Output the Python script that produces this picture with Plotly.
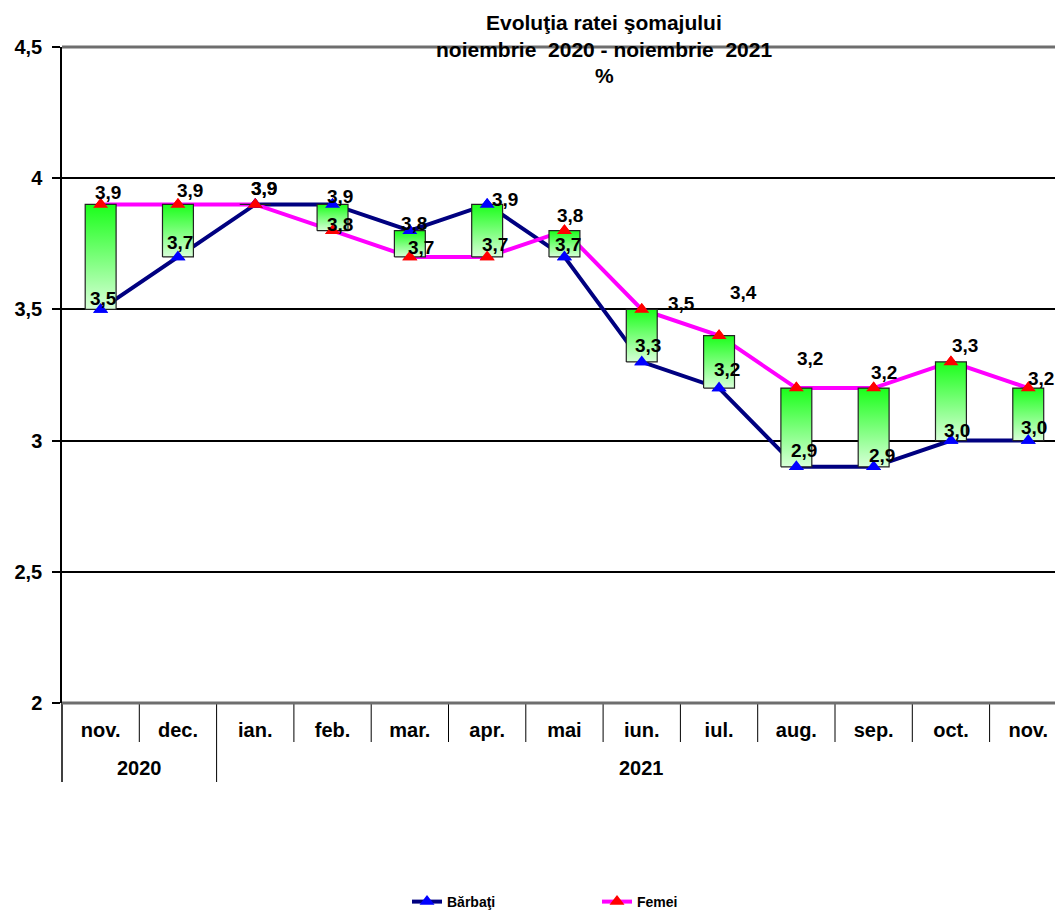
import plotly.graph_objects as go

# ---------------- data ----------------
months = ["nov.", "dec.", "ian.", "feb.", "mar.", "apr.", "mai",
          "iun.", "iul.", "aug.", "sep.", "oct.", "nov."]
years = ["2020", "2021"]
year_first = [0, 2]
year_last = [1, 12]
barbati = [3.5, 3.7, 3.9, 3.9, 3.8, 3.9, 3.7, 3.3, 3.2, 2.9, 2.9, 3.0, 3.0]
femei = [3.9, 3.9, 3.9, 3.8, 3.7, 3.7, 3.8, 3.5, 3.4, 3.2, 3.2, 3.3, 3.2]
y_ticks = [2, 2.5, 3, 3.5, 4, 4.5]
y_tick_text = ["2", "2,5", "3", "3,5", "4", "4,5"]

# ---------------- styles ----------------
FONT = "Liberation Sans, Arial, sans-serif"
NAVY = "#000080"
MAGENTA = "#FF00FF"
# pixel offsets of data labels (label centre relative to point)
fem_dx = [7, 12, 9, 7, 11, 8, 6, 40, 24, 14, 10, 14, 13]
fem_dy = [-12, -14, -16, -6, -9, -12, -15, -6, -43, -30, -16, -16, -10]
bar_dx = [3, 2, 9, 7, 4, 18, 4, 6, 8, 8, 8, 6, 6]
bar_dy = [-11, -14, -16, -8, -7, -5, -12, -16, -19, -16, -11, -10, -13]

W, H = 1055, 918
ML, MT = 62, 47
PLOT_B = 703
CAT_PX = 77.3
plot_h = PLOT_B - MT
plot_w = W - ML
x_max = -0.5 + plot_w / CAT_PX
HALF = 0.2

xs = list(range(len(months)))

fig = go.Figure()

# lines (with markers for the legend)
fig.add_trace(go.Scatter(
    x=xs, y=barbati, name="Bărbaţi", mode="lines+markers",
    line=dict(color=NAVY, width=4),
    marker=dict(symbol="triangle-up", size=13, color="#0000FF"),
    hoverinfo="skip"))
fig.add_trace(go.Scatter(
    x=xs, y=femei, name="Femei", mode="lines+markers",
    line=dict(color=MAGENTA, width=4),
    marker=dict(symbol="triangle-up", size=13, color="#FF0000"),
    hoverinfo="skip"))

# up-down bars with vertical gradient
for i, (b, f) in enumerate(zip(barbati, femei)):
    lo, hi = min(b, f), max(b, f)
    fig.add_trace(go.Scatter(
        x=[i - HALF, i + HALF, i + HALF, i - HALF, i - HALF],
        y=[lo, lo, hi, hi, lo],
        mode="lines", fill="toself",
        fillgradient=dict(type="vertical",
                          colorscale=[[0, "#D8FFD8"], [1, "#1AFF1A"]]),
        line=dict(color="#222222", width=1.2),
        showlegend=False, hoverinfo="skip"))

# markers on top of bars
fig.add_trace(go.Scatter(
    x=xs, y=barbati, mode="markers", showlegend=False, hoverinfo="skip",
    marker=dict(symbol="triangle-up", size=13, color="#0000FF")))
fig.add_trace(go.Scatter(
    x=xs, y=femei, mode="markers", showlegend=False, hoverinfo="skip",
    marker=dict(symbol="triangle-up", size=13, color="#FF0000")))

annotations = []
lab_font = dict(family=FONT, size=19, color="black")
for i in xs:
    annotations.append(dict(
        x=i, y=barbati[i], xref="x", yref="y", showarrow=False,
        text="<b>" + f"{barbati[i]:.1f}".replace(".", ",") + "</b>",
        xshift=bar_dx[i], yshift=-bar_dy[i], font=lab_font))
    annotations.append(dict(
        x=i, y=femei[i], xref="x", yref="y", showarrow=False,
        text="<b>" + f"{femei[i]:.1f}".replace(".", ",") + "</b>",
        xshift=fem_dx[i], yshift=-fem_dy[i], font=lab_font))

# title lines
title_lines = ["Evoluţia ratei şomajului",
               "noiembrie  2020 - noiembrie  2021", "%"]
title_px = [23, 50, 76]
title_x = (604 - ML) / plot_w
for t, py in zip(title_lines, title_px):
    annotations.append(dict(
        x=title_x, y=(PLOT_B - py) / plot_h, xref="paper", yref="paper",
        showarrow=False, text="<b>" + t + "</b>",
        font=dict(family=FONT, size=21, color="black"),
        xanchor="center", yanchor="middle"))

# year labels
for yr, a, b in zip(years, year_first, year_last):
    annotations.append(dict(
        x=(a + b) / 2, y=(PLOT_B - 768) / plot_h, xref="x", yref="paper",
        showarrow=False, text="<b>" + yr + "</b>",
        font=dict(family=FONT, size=20, color="black"),
        xanchor="center", yanchor="middle"))

shapes = []
month_row = (PLOT_B - 742) / plot_h
year_row = (PLOT_B - 782) / plot_h
for i in xs[1:]:
    shapes.append(dict(type="line", xref="x", yref="paper",
                       x0=i - 0.5, x1=i - 0.5, y0=0, y1=month_row,
                       line=dict(color="black", width=1)))
for a in year_first[1:]:
    shapes.append(dict(type="line", xref="x", yref="paper",
                       x0=a - 0.5, x1=a - 0.5, y0=month_row, y1=year_row,
                       line=dict(color="black", width=1)))
shapes.append(dict(type="line", xref="paper", yref="paper",
                   x0=0, x1=0, y0=0, y1=year_row,
                   line=dict(color="black", width=1.5)))
# plot-area top and bottom borders (gray)
for yb in (0, 1):
    shapes.append(dict(type="line", xref="paper", yref="paper",
                       x0=0, x1=1, y0=yb, y1=yb, layer="above",
                       line=dict(color="#6e6e6e", width=3)))

fig.update_layout(
    width=W, height=H,
    margin=dict(l=ML, r=0, t=MT, b=H - PLOT_B, pad=0),
    paper_bgcolor="white", plot_bgcolor="white",
    separators=", ",
    font=dict(family=FONT, color="black"),
    showlegend=True,
    legend=dict(orientation="h", x=(407 - ML) / plot_w, xanchor="left",
                y=(PLOT_B - 902) / plot_h, yanchor="middle",
                font=dict(family=FONT, size=14, color="black", weight="bold"),
                entrywidth=145, entrywidthmode="pixels",
                tracegroupgap=0, itemsizing="trace",
                bgcolor="rgba(0,0,0,0)"),
    annotations=annotations,
    shapes=shapes,
)

fig.update_xaxes(
    range=[-0.5, x_max], tickmode="array", tickvals=xs, ticktext=months,
    showgrid=False, zeroline=False, ticks="", showline=False,
    tickfont=dict(family=FONT, size=20, color="black", weight="bold"),
    ticklabelstandoff=13,
)
fig.update_yaxes(
    range=[2, 4.5], tickmode="array", tickvals=y_ticks, ticktext=y_tick_text,
    showgrid=True, gridcolor="black", gridwidth=2, zeroline=False,
    showline=True, linecolor="black", linewidth=1.5,
    ticks="outside", ticklen=8, tickcolor="black", tickwidth=1.5,
    tickfont=dict(family=FONT, size=20, color="black", weight="bold"),
    ticklabelstandoff=6,
)

fig.write_html(
    "out.html",
    config={"displayModeBar": False},
    post_script="document.body.style.margin='0';"
                "document.body.style.overflow='hidden';")
